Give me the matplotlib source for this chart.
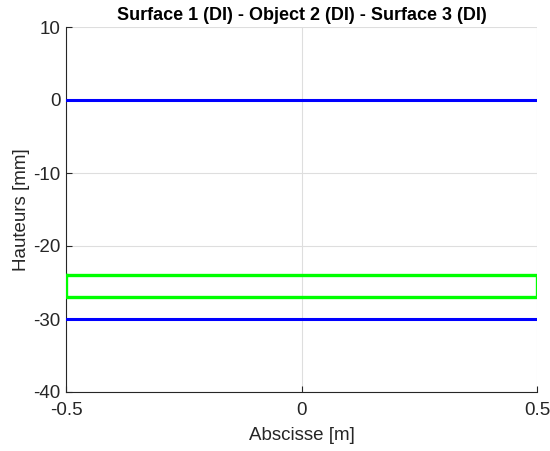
import numpy as np
import matplotlib
matplotlib.use("Agg")
from matplotlib import pyplot as plt

plt.rcParams['font.family'] = ['Liberation Sans', 'DejaVu Sans']

# surfaces (blue lines) and object (green rectangle), heights in mm
x_range = [-0.5, 0.5]
surface_heights = [0, -30]
object_top = -24
object_bottom = -27

x_ticks = [-0.5, 0, 0.5]
y_ticks = [10, 0, -10, -20, -30, -40]

fig = plt.figure(figsize=(5.5, 4.51), dpi=100)
ax = fig.add_axes([66/550, 1 - 392/451, (537-66)/550, (392-27)/451])

for h in surface_heights:
    ax.plot(x_range, [h, h], color="#0000ff", linewidth=2.2, zorder=3)

rx = [x_range[0], x_range[1], x_range[1], x_range[0], x_range[0]]
ry = [object_top, object_top, object_bottom, object_bottom, object_top]
ax.plot(rx, ry, color="#00ff00", linewidth=2.4, zorder=3)

ax.set_xlim(-0.5, 0.5)
ax.set_ylim(-40, 10)
ax.set_xticks(x_ticks)
ax.set_xticklabels(["-0.5", "0", "0.5"])
ax.set_yticks(y_ticks)
ax.set_yticklabels([str(t) for t in y_ticks])

ax.grid(True, color="#dedede", linewidth=0.8)
ax.set_axisbelow(True)
for s in ["top", "right"]:
    ax.spines[s].set_visible(False)
for s in ["left", "bottom"]:
    ax.spines[s].set_color("#262626")
    ax.spines[s].set_linewidth(0.8)
ax.tick_params(direction="in", length=4, colors="#262626", labelsize=13.5)
ax.tick_params(axis="y", pad=4)
ax.tick_params(axis="x", pad=7)

ax.set_title("Surface 1 (DI) - Object 2 (DI) - Surface 3 (DI)", fontsize=13,
             fontweight="bold", pad=5)
ax.set_xlabel("Abscisse [m]", fontsize=13.5, color="#262626", labelpad=6)
ax.set_ylabel("Hauteurs [mm]", fontsize=13.5, color="#262626", labelpad=2)

fig.savefig("out.png", dpi=100)
